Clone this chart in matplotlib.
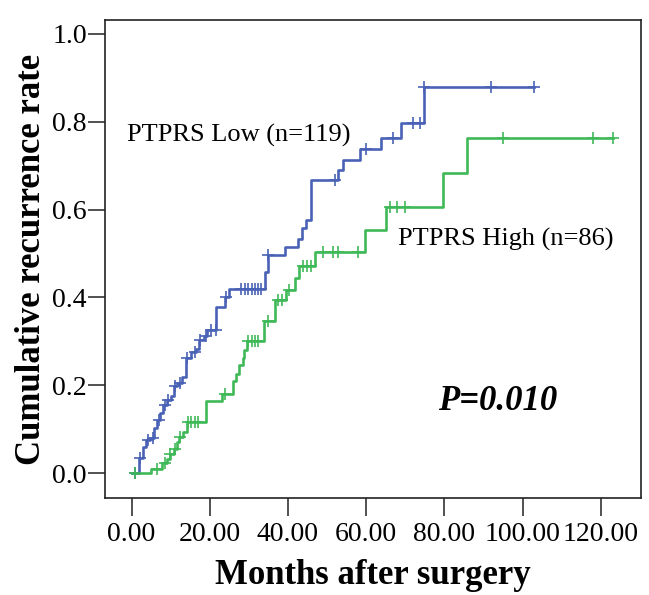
import numpy as np
import matplotlib
matplotlib.use('Agg')
import matplotlib.pyplot as plt
from matplotlib.ticker import FormatStrFormatter

plt.rcParams['font.family'] = ['Liberation Serif', 'DejaVu Serif']

# PTPRS Low (n=119): event times (months) and cumulative rate after each step
low_t = [1.9, 2.8, 3.8, 4.8, 5.7, 6.6, 7.2, 8.1, 9.0, 10.0, 10.8, 11.7, 12.8,
         13.9, 15.3, 16.4, 17.3, 18.5, 19.3, 21.7, 23.9, 25.0, 34.0, 34.8,
         39.3, 42.6, 43.6, 44.7, 45.9, 52.8, 54.0, 58.4, 63.9, 69.0, 74.8]
low_y = [0.035, 0.059, 0.075, 0.080, 0.103, 0.122, 0.137, 0.156, 0.167, 0.175,
         0.199, 0.205, 0.220, 0.262, 0.277, 0.282, 0.303, 0.312, 0.326, 0.378,
         0.402, 0.419, 0.457, 0.497, 0.515, 0.534, 0.557, 0.576, 0.667, 0.690,
         0.712, 0.737, 0.763, 0.796, 0.878]
low_cens = [0.8, 2.1, 4.1, 5.5, 7.1, 8.5, 9.4, 11.1, 12.4, 14.2, 16.2, 17.5,
            19.0, 20.4, 21.6, 24.1, 28.1, 29.0, 29.8, 30.7, 31.5, 32.4, 33.2,
            34.9, 52.0, 59.9, 66.9, 71.9, 73.7, 74.8, 91.9, 103.0]

# PTPRS High (n=86)
high_t = [4.9, 7.7, 9.0, 9.8, 10.8, 11.7, 12.2, 13.2, 14.2, 19.0, 23.0, 26.0,
          26.7, 27.5, 28.4, 28.7, 29.4, 33.8, 36.6, 39.6, 41.8, 42.9, 46.9,
          59.7, 65.0, 79.7, 85.8]
high_y = [0.010, 0.023, 0.032, 0.044, 0.055, 0.072, 0.083, 0.094, 0.116, 0.164,
          0.180, 0.211, 0.226, 0.246, 0.262, 0.281, 0.302, 0.347, 0.394, 0.416,
          0.444, 0.471, 0.504, 0.553, 0.606, 0.684, 0.762]
high_cens = [0.8, 6.4, 8.5, 9.8, 11.1, 12.4, 14.5, 15.3, 16.2, 17.0, 23.9,
             29.8, 30.7, 31.5, 32.4, 34.9, 37.5, 38.4, 40.3, 43.9, 44.9, 45.8,
             49.0, 51.6, 52.8, 58.0, 66.0, 67.8, 69.9, 94.9, 117.9, 123.2]

xticks = [0, 20, 40, 60, 80, 100, 120]
yticks = [0.0, 0.2, 0.4, 0.6, 0.8, 1.0]

blue = '#4a62b6'
green = '#3fb957'

fig = plt.figure(figsize=(6.49, 5.95), dpi=100)
ax = fig.add_axes([0.1618, 0.163, 0.8259, 0.8034])


def draw_curve(t, y, cens, color):
    tt = np.concatenate([[0.0], t, [max(cens)]])
    yy = np.concatenate([[0.0], y, [y[-1]]])
    ax.step(tt, yy, where='post', color=color, lw=1.9, zorder=3)
    idx = np.searchsorted(tt, cens, side='right') - 1
    ax.plot(cens, yy[idx], ls='none', marker='+', ms=8, mew=1.2,
            color=color, zorder=4)


draw_curve(low_t, low_y, low_cens, blue)
draw_curve(high_t, high_y, high_cens, green)

ax.set_xlim(-6.8, 130.3)
ax.set_ylim(-0.056, 1.031)
ax.set_xticks(xticks)
ax.set_yticks(yticks)
ax.xaxis.set_major_formatter(FormatStrFormatter('%.2f'))
ax.yaxis.set_major_formatter(FormatStrFormatter('%.1f'))
ax.tick_params(axis='both', direction='out', labelsize=20, width=1.2,
               color='#333333')
ax.tick_params(axis='x', length=13, pad=4)
ax.tick_params(axis='y', length=12, pad=1)
for s in ax.spines.values():
    s.set_linewidth(1.2)
    s.set_color('#222222')

ax.set_xlabel('Months after surgery', fontsize=25, fontweight='bold',
              labelpad=9)
ax.set_ylabel('Cumulative recurrence rate', fontsize=25, fontweight='bold',
              labelpad=3)

ax.text(-1.2, 0.769, 'PTPRS Low (n=119)', fontsize=19, va='center', ha='left')
ax.text(68.1, 0.531, 'PTPRS High (n=86)', fontsize=19, va='center', ha='left')
ax.text(93.7, 0.1625, 'P=0.010', fontsize=25, fontweight='bold',
        fontstyle='italic', ha='center', va='center')

fig.savefig('out.png', dpi=100)
